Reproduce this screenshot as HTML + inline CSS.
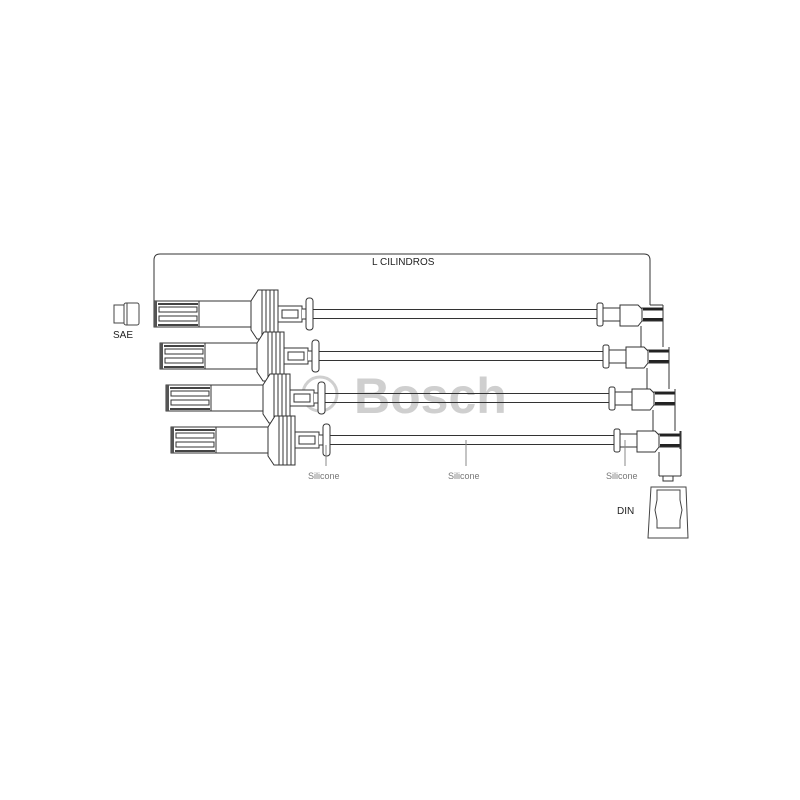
<!DOCTYPE html>
<html><head><meta charset="utf-8"><style>
html,body{margin:0;padding:0;background:#fff;}
svg{display:block;}
text{font-family:"Liberation Sans",sans-serif;}
</style></head><body>
<svg width="800" height="800" viewBox="0 0 800 800" xmlns="http://www.w3.org/2000/svg">
<defs>
<g id="row" fill="#fff" stroke="#333" stroke-width="1">
  <rect x="154" y="-13" width="45" height="26" fill="#fff"/>
  <rect x="154" y="-13" width="3" height="26" fill="#555" stroke="none"/>
  <rect x="158" y="-11" width="40" height="2" fill="#444" stroke="none"/>
  <rect x="158" y="10" width="40" height="2" fill="#444" stroke="none"/>
  <rect x="159" y="-7" width="38" height="5"/>
  <rect x="159" y="2" width="38" height="5"/>
  <line x1="199" y1="-13" x2="251" y2="-13"/>
  <line x1="199" y1="13" x2="251" y2="13"/>
  <path d="M251 -13 L251 16 L257 25 L278 25 L278 -24 L258 -24 Z"/>
  <line x1="262" y1="-24" x2="262" y2="25"/>
  <line x1="266" y1="-24" x2="266" y2="25"/>
  <line x1="270" y1="-24" x2="270" y2="25"/>
  <line x1="274" y1="-24" x2="274" y2="25"/>
  <rect x="278" y="-8" width="24" height="16"/>
  <rect x="282" y="-4" width="16" height="8"/>
  <path d="M302 -5 L306 -5 L306 5 L302 5"/>
  <rect x="306" y="-16" width="7" height="32" rx="3"/>
  <line x1="313" y1="-4.5" x2="597" y2="-4.5"/>
  <line x1="313" y1="4.5" x2="597" y2="4.5"/>
  <rect x="597" y="-11" width="6" height="23" rx="2"/>
  <rect x="603" y="-6" width="17" height="13"/>
  <path d="M620 -9 L638 -9 L642 -5 L642 7 L638 12 L620 12 Z"/>
  <rect x="642" y="-6" width="21" height="13"/>
  <rect x="643" y="-6" width="20" height="2.5" fill="#222" stroke="none"/>
  <rect x="643" y="4" width="20" height="2.5" fill="#222" stroke="none"/>
  <line x1="663" y1="-9" x2="663" y2="9"/>
</g>
</defs>
<g fill="none" stroke="#cfcfcf" stroke-width="3">
  <circle cx="320" cy="394" r="17"/>
</g>
<text x="354" y="413" font-size="50" font-weight="bold" fill="#cfcfcf">Bosch</text>
<path d="M154 301 L154 260 Q154 254 160 254 L644 254 Q650 254 650 260 L650 305" fill="none" stroke="#333" stroke-width="1"/>
<text x="372" y="265" font-size="10" fill="#222">L  CILINDROS</text>
<g fill="#fff" stroke="#444" stroke-width="1">
  <rect x="114" y="305" width="10" height="18"/>
  <rect x="124" y="303" width="15" height="22" rx="2"/>
  <line x1="127" y1="303" x2="127" y2="325"/>
</g>
<text x="113" y="338" font-size="10" fill="#222">SAE</text>
<use href="#row" transform="translate(0,314)"/>
<use href="#row" transform="translate(6,356)"/>
<use href="#row" transform="translate(12,398)"/>
<use href="#row" transform="translate(17,440)"/>
<g stroke="#333" stroke-width="1" fill="none">
  <line x1="663" y1="305" x2="663" y2="347"/>
  <line x1="669" y1="347" x2="669" y2="389"/>
  <line x1="675" y1="389" x2="675" y2="431"/>
  <line x1="641" y1="326" x2="641" y2="347"/>
  <line x1="647" y1="368" x2="647" y2="389"/>
  <line x1="653" y1="410" x2="653" y2="431"/>
  <line x1="663" y1="305" x2="650" y2="305"/>
  <line x1="681" y1="431" x2="681" y2="476"/>
  <line x1="659" y1="452" x2="659" y2="476"/>
  <line x1="659" y1="476" x2="681" y2="476"/>
</g>
<rect x="663" y="476" width="10" height="5" fill="#fff" stroke="#333"/>
<g fill="#fff" stroke="#444" stroke-width="1">
  <path d="M651 487 L686 487 L688 538 L648 538 Z"/>
  <path d="M657 490 L680 490 L680 500 L682 510 L680 520 L680 528 L657 528 L657 520 L655 510 L657 500 Z"/>
</g>
<text x="617" y="514" font-size="10" fill="#222">DIN</text>
<g stroke="#888" stroke-width="1">
  <line x1="326" y1="445" x2="326" y2="466"/>
  <line x1="466" y1="440" x2="466" y2="466"/>
  <line x1="625" y1="440" x2="625" y2="466"/>
</g>
<g font-size="9" fill="#777">
  <text x="308" y="479">Silicone</text>
  <text x="448" y="479">Silicone</text>
  <text x="606" y="479">Silicone</text>
</g>
</svg>
</body></html>
